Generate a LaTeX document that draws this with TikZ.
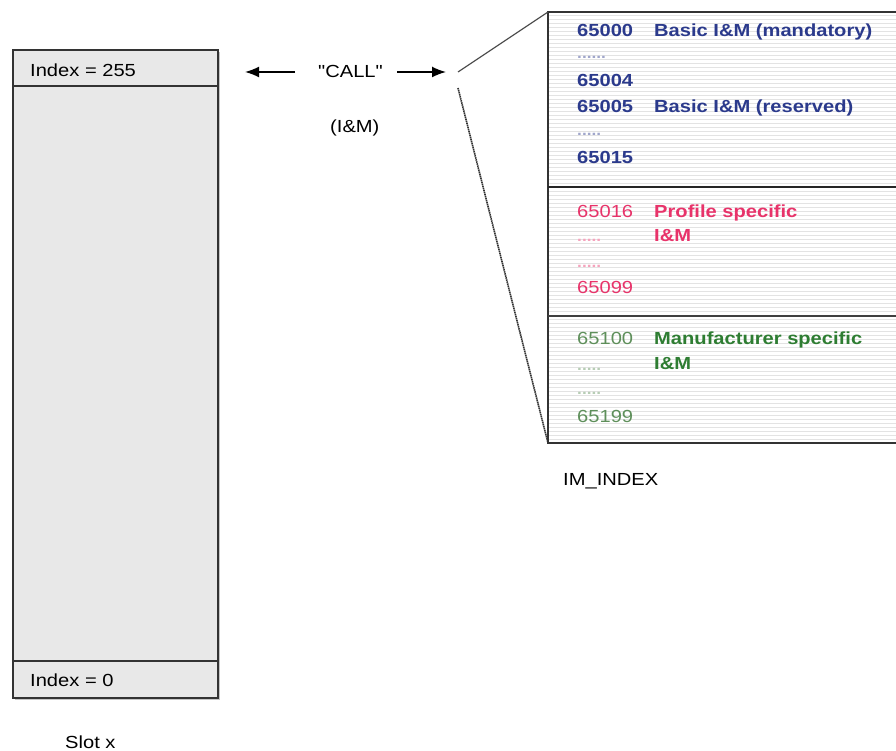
\documentclass[tikz,border=0pt]{standalone}
\usepackage{fontspec}
\setmainfont[FakeStretch=1.15, Ligatures=TeXOff]{Liberation Sans}
\usetikzlibrary{arrows.meta,shadows}

\definecolor{slotgray}{HTML}{E8E8E8}
\definecolor{imblue}{HTML}{2B3A8C}
\definecolor{imred}{HTML}{E8336A}
\definecolor{imgreen}{HTML}{2E7D32}
\definecolor{imgreenlt}{HTML}{5E8F5A}

\tikzset{
  lbl/.style={anchor=base west, inner sep=0pt, font=\fontsize{17.5}{20}\selectfont},
  boldlbl/.style={lbl, font=\fontsize{17.5}{20}\selectfont\bfseries},
  dotlbl/.style={lbl, font=\fontsize{15}{17}\selectfont\bfseries},
  slotbox/.style={draw=black!80, line width=1.6pt, fill=slotgray,
    drop shadow={shadow xshift=2pt, shadow yshift=-2pt, opacity=0.45}},
  callarrow/.style={line width=1.6pt, -{Latex[length=14pt,width=11pt]}}
}

\begin{document}
\begin{tikzpicture}[x=1pt, y=-1pt]
  \useasboundingbox (0,0) rectangle (896,751);

  % Slot x with its indices:
  \node[slotbox, minimum width=205pt, minimum height=648pt, inner sep=0pt] (slot) at (115.5,374) {};
  \draw[line width=1.4pt, black!80] ([yshift=-37pt]slot.north west) -- ([yshift=-37pt]slot.north east);
  \draw[line width=1.4pt, black!80] ([yshift=38pt]slot.south west) -- ([yshift=38pt]slot.south east);
  \node[lbl] (idx255) at (30,77) {Index = 255};
  \node[lbl] (idx0) at (30,686) {Index = 0};
  \node[lbl] (slotx) at (65,748) {Slot x};

  % CALL with the two arrows:
  \node[lbl] (call) at (318,78) {"CALL"};
  \node[lbl] (im) at (330,133) {(I\&M)};
  \coordinate (lefttip) at (245,72);
  \coordinate (righttip) at (446,72);
  \draw[callarrow] ([xshift=-23pt]call.west |- lefttip) -- (lefttip);
  \draw[callarrow] ([xshift=14pt]call.east |- righttip) -- (righttip);

  % IM_INDEX table:
  \coordinate (idxnw) at (548,12);
  \coordinate (idxsw) at (548,443);
  \fill[white] (idxnw) rectangle (896,443);
  \foreach \y in {15,19,...,441}
    \draw[gray!22, line width=0.7pt] (549,\y) -- (896,\y);
  \draw[line width=1.8pt, black!80] (896,12) -- (idxnw) -- (idxsw) -- (896,443);
  \draw[line width=2pt, black!85] (548,187) -- (896,187);
  \draw[line width=1.6pt, black!75] (548,316) -- (896,316);

  % Fan lines from the CALL to the table:
  \coordinate (fantop) at (458,72);
  \coordinate (fanbot) at (458,88);
  \draw[line width=1.2pt, black!70] (fantop) -- (idxnw);
  \draw[line width=1.6pt, black!80, dash pattern=on 1.5pt off 0.6pt] (fanbot) -- (idxsw);

  % Basic I&M:
  \node[boldlbl, imblue] (n65000) at (577,37) {65000};
  \node[boldlbl, imblue] (basicm) at (654,37) {Basic I\&M (mandatory)};
  \node[dotlbl, imblue!45] (dotsa) at (577,59) {......};
  \node[boldlbl, imblue] (n65004) at (577,87) {65004};
  \node[boldlbl, imblue] (n65005) at (577,113) {65005};
  \node[boldlbl, imblue] (basicr) at (654,113) {Basic I\&M (reserved)};
  \node[dotlbl, imblue!45] (dotsb) at (577,136) {.....};
  \node[boldlbl, imblue] (n65015) at (577,164) {65015};

  % Profile specific I&M:
  \node[lbl, imred] (n65016) at (577,218) {65016};
  \node[boldlbl, imred] (profile) at (654,218) {Profile specific};
  \node[boldlbl, imred] (profileim) at (654,242) {I\&M};
  \node[dotlbl, imred!45] (dotsc) at (577,242) {.....};
  \node[dotlbl, imred!45] (dotsd) at (577,267) {.....};
  \node[lbl, imred] (n65099) at (577,293) {65099};

  % Manufacturer specific I&M:
  \node[lbl, imgreenlt] (n65100) at (577,344) {65100};
  \node[boldlbl, imgreen] (manuf) at (654,344) {Manufacturer specific};
  \node[boldlbl, imgreen] (manufim) at (654,369) {I\&M};
  \node[dotlbl, imgreenlt!45] (dotse) at (577,370) {.....};
  \node[dotlbl, imgreenlt!45] (dotsf) at (577,394) {.....};
  \node[lbl, imgreenlt] (n65199) at (577,422) {65199};

  \node[lbl] (imindex) at (563,485) {IM\_INDEX};
\end{tikzpicture}
\end{document}
